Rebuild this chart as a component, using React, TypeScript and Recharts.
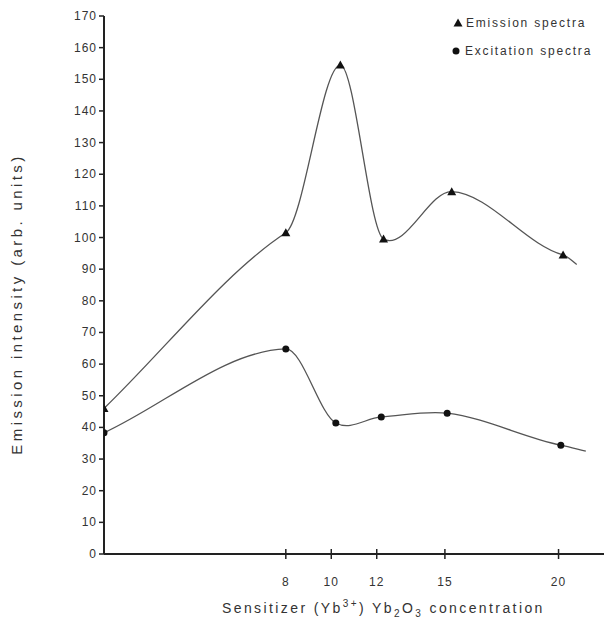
import { LineChart, Line, XAxis, YAxis } from "recharts";

// last point of each series is where the drawn curve stops (no marker)
const emissionX = [0, 8, 10.4, 12.3, 15.3, 20.2, 20.8];
const emissionY = [46, 101.5, 154.5, 99.5, 114.5, 94.5, 91.5];
const excitationX = [0, 8, 10.2, 12.2, 15.1, 20.1, 21.2];
const excitationY = [38.3, 64.8, 41.4, 43.3, 44.5, 34.4, 32.5];

const xTicks = [8, 10, 12, 15, 20];
const yTicks = [0, 10, 20, 30, 40, 50, 60, 70, 80, 90, 100, 110, 120, 130, 140, 150, 160, 170];

const legendNames = ["Emission spectra", "Excitation spectra"];

const emissionData = emissionX.map((x, i) => ({ x, y: emissionY[i] }));
const excitationData = excitationX.map((x, i) => ({ x, y: excitationY[i] }));

const INK = "#222";
const LINE = "#555";
const FONT = "'Liberation Sans', Arial, sans-serif";

const triangle = (cx: number, cy: number) =>
  `M${cx},${cy - 4.5} L${cx + 4.5},${cy + 3.5} L${cx - 4.5},${cy + 3.5} Z`;

// hermite spline, tangent = k * neighbour secant (k=1 is catmull-rom, smaller is tighter)
const makeCurve = (k: number) => (context: any) => {
  let xs: number[] = [];
  let ys: number[] = [];
  return {
    areaStart() {},
    areaEnd() {},
    lineStart() {
      xs = [];
      ys = [];
    },
    point(x: number, y: number) {
      xs.push(+x);
      ys.push(+y);
    },
    lineEnd() {
      const n = xs.length;
      if (!n) return;
      context.moveTo(xs[0], ys[0]);
      if (n === 1) return;
      const m: number[] = [];
      for (let i = 0; i < n; i++) {
        if (i === 0) m.push((ys[1] - ys[0]) / (xs[1] - xs[0]));
        else if (i === n - 1) m.push((ys[n - 1] - ys[n - 2]) / (xs[n - 1] - xs[n - 2]));
        else m.push((k * (ys[i + 1] - ys[i - 1])) / (xs[i + 1] - xs[i - 1]));
      }
      for (let i = 0; i < n - 1; i++) {
        const h = (xs[i + 1] - xs[i]) / 3;
        context.bezierCurveTo(xs[i] + h, ys[i] + m[i] * h, xs[i + 1] - h, ys[i + 1] - m[i + 1] * h, xs[i + 1], ys[i + 1]);
      }
    },
  };
};

function XTick(props: any) {
  const { x, y, payload } = props;
  return (
    <g>
      <line x1={x} x2={x} y1={y - 5} y2={y + 5} stroke={INK} strokeWidth={1.5} />
      <text x={x} y={y + 32} textAnchor="middle" fontSize={12} fill="#333" fontFamily={FONT} letterSpacing={1}>
        {payload.value}
      </text>
    </g>
  );
}

function YTick(props: any) {
  const { x, y, payload } = props;
  return (
    <text x={x} y={y + 4} textAnchor="end" fontSize={12} fill="#333" fontFamily={FONT} letterSpacing={1}>
      {payload.value}
    </text>
  );
}

function LegendBox() {
  return (
    <svg width={604} height={70} style={{ position: "absolute", left: 0, top: 0 }}>
      <path d={triangle(458, 23)} fill="#111" />
      <text x={466} y={27} fontSize={12} fill="#333" fontFamily={FONT} letterSpacing={1.8}>
        {legendNames[0]}
      </text>
      <circle cx={456} cy={51} r={3.5} fill="#111" />
      <text x={465} y={55} fontSize={12} fill="#333" fontFamily={FONT} letterSpacing={1.8}>
        {legendNames[1]}
      </text>
    </svg>
  );
}

export default function App() {
  const lastE = emissionData.length - 1;
  const lastX = excitationData.length - 1;
  return (
    <div style={{ position: "absolute", left: 0, top: 0, width: 604, height: 628, background: "#fff" }}>
      <LineChart width={604} height={628} margin={{ top: 16, right: 0, bottom: 34, left: 44 }}>
        <XAxis
          type="number"
          dataKey="x"
          domain={[0, 22]}
          ticks={xTicks}
          allowDataOverflow
          height={40}
          tickSize={0}
          tickMargin={0}
          tickLine={false}
          tick={<XTick />}
          axisLine={{ stroke: INK, strokeWidth: 2 }}
          label={({ viewBox }: any) => (
            <text
              x={viewBox.x + 118}
              y={viewBox.y + 59}
              fontSize={14}
              fill="#333"
              fontFamily={FONT}
              letterSpacing={2.4}
            >
              Sensitizer (Yb
              <tspan dy={-6} fontSize={10}>3+</tspan>
              <tspan dy={6}>) Yb</tspan>
              <tspan dy={4} fontSize={10}>2</tspan>
              <tspan dy={-4}>O</tspan>
              <tspan dy={4} fontSize={10}>3</tspan>
              <tspan dy={-4}> concentration</tspan>
            </text>
          )}
        />
        <YAxis
          type="number"
          domain={[0, 170]}
          ticks={yTicks}
          width={60}
          tickSize={5}
          tickMargin={2}
          tick={<YTick />}
          tickLine={{ stroke: INK, strokeWidth: 1.5 }}
          axisLine={{ stroke: INK, strokeWidth: 2 }}
          label={({ viewBox }: any) => (
            <text
              x={0}
              y={0}
              transform={`translate(${viewBox.x - 22}, 304) rotate(-90)`}
              textAnchor="middle"
              fontSize={15}
              fill="#333"
              fontFamily={FONT}
              letterSpacing={3.4}
            >
              Emission intensity (arb. units)
            </text>
          )}
        />
        <Line
          data={emissionData}
          dataKey="y"
          type={makeCurve(0.45) as any}
          stroke={LINE}
          strokeWidth={1.3}
          isAnimationActive={false}
          legendType="none"
          activeDot={false}
          dot={(p: any) =>
            p.index === lastE ? (
              <g key={`e${p.index}`} />
            ) : (
              <path key={`e${p.index}`} d={triangle(p.cx, p.cy)} fill="#111" />
            )
          }
        />
        <Line
          data={excitationData}
          dataKey="y"
          type={makeCurve(0.75) as any}
          stroke={LINE}
          strokeWidth={1.3}
          isAnimationActive={false}
          legendType="none"
          activeDot={false}
          dot={(p: any) =>
            p.index === lastX ? (
              <g key={`c${p.index}`} />
            ) : (
              <circle key={`c${p.index}`} cx={p.cx} cy={p.cy} r={3.5} fill="#111" />
            )
          }
        />
      </LineChart>
      <LegendBox />
    </div>
  );
}
